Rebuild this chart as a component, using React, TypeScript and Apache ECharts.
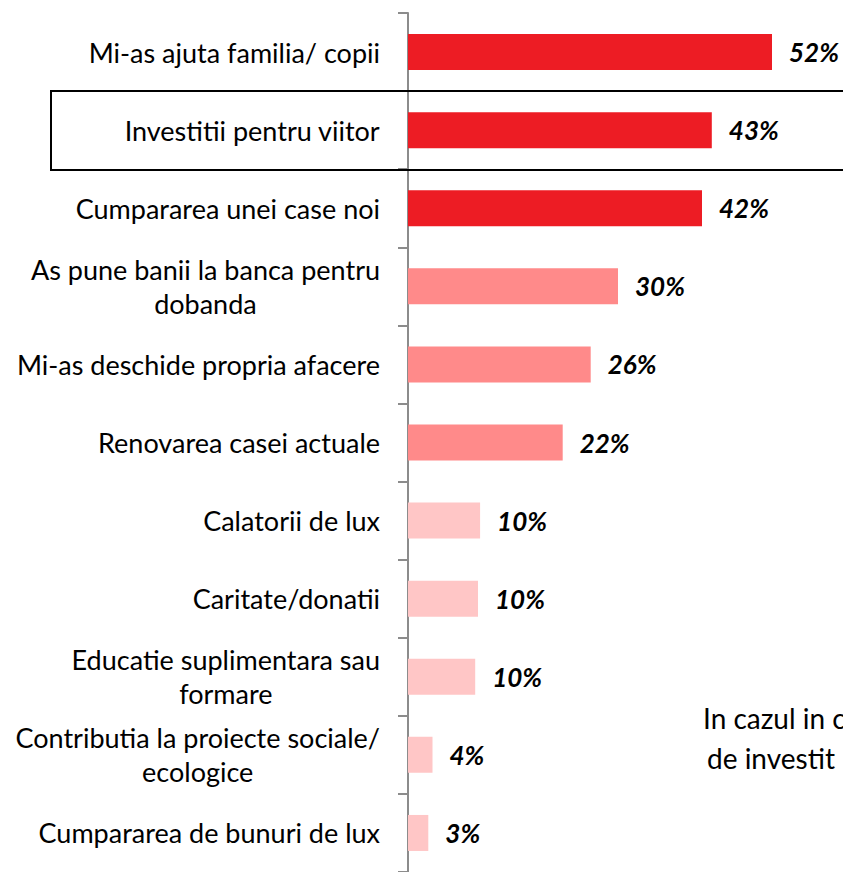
import React, { useEffect, useRef } from "react";
import * as echarts from "echarts";

const categories = [
  "Mi-as ajuta familia/ copii",
  "Investitii pentru viitor",
  "Cumpararea unei case noi",
  "As pune banii la banca pentru\ndobanda",
  "Mi-as deschide propria afacere",
  "Renovarea casei actuale",
  "Calatorii de lux",
  "Caritate/donatii",
  "Educatie suplimentara sau\nformare",
  "Contributia la proiecte sociale/\necologice",
  "Cumpararea de bunuri de lux",
];
const values = [52, 43.4, 42, 30, 26.1, 22.1, 10.3, 10, 9.6, 3.5, 2.9];
const colorTier = [0, 0, 0, 1, 1, 1, 2, 2, 2, 2, 2];
const tierColors = ["#ED1C24", "#FF8A8A", "#FFC6C6"];
const sideText = ["In cazul in c", "de investit"];

const FONT = "Lato";

export default function App() {
  const ref = useRef<HTMLDivElement>(null);
  useEffect(() => {
    if (!ref.current) return;
    const chart = echarts.init(ref.current, null, { renderer: "svg" });
    chart.setOption({
      animation: false,
      grid: { left: 408, top: 13, width: 420, height: 862 },
      xAxis: { type: "value", min: 0, max: 60, show: false },
      yAxis: {
        type: "category",
        inverse: true,
        data: categories,
        axisLine: { show: true, lineStyle: { color: "#8c8c8c", width: 2 } },
        axisTick: { show: true, length: 10, lineStyle: { color: "#8c8c8c", width: 2 } },
        axisLabel: {
          margin: 28,
          formatter: (v: string) =>
            v
              .split("\n")
              .map((s) => "{c|" + s + "}")
              .join("\n"),
          rich: {
            c: {
              align: "center",
              fontFamily: FONT,
              fontSize: 27,
              color: "#000",
              lineHeight: 34,
            },
          },
        },
      },
      series: [
        {
          type: "bar",
          barWidth: 36,
          data: values.map((v, i) => ({
            value: v,
            itemStyle: { color: tierColors[colorTier[i]] },
          })),
          label: {
            show: true,
            position: "right",
            distance: 17,
            formatter: (p: any) => Math.round(p.value) + "%",
            fontFamily: FONT,
            fontSize: 26,
            fontWeight: "bold",
            fontStyle: "italic",
            color: "#000",
          },
        },
      ],
      graphic: [
        {
          type: "rect",
          shape: { x: 51, y: 91, width: 820, height: 79 },
          style: { fill: "none", stroke: "#000", lineWidth: 2 },
          z: 100,
        },
        {
          type: "text",
          x: 703,
          y: 718,
          style: {
            text: sideText[0],
            fontFamily: FONT,
            fontSize: 28,
            fill: "#000",
            verticalAlign: "middle",
          },
        },
        {
          type: "text",
          x: 707,
          y: 758,
          style: {
            text: sideText[1],
            fontFamily: FONT,
            fontSize: 28,
            fill: "#000",
            verticalAlign: "middle",
          },
        },
      ],
    });
    return () => chart.dispose();
  }, []);
  return (
    <div
      ref={ref}
      style={{ position: "absolute", left: 0, top: 0, width: 843, height: 872 }}
    />
  );
}
